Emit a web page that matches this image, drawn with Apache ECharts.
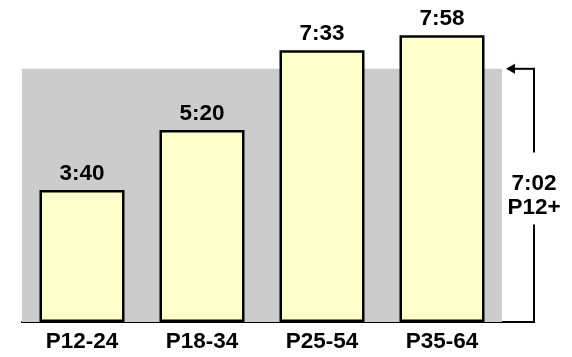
<!DOCTYPE html>
<html><head><meta charset="utf-8">
<script src="https://cdn.jsdelivr.net/npm/echarts@6/dist/echarts.min.js"></script>
<style>html,body{margin:0;padding:0;background:#fff}#c{width:572px;height:357px}</style>
</head><body><div id="c"></div>
<script>
var categories = ['P12-24', 'P18-34', 'P25-54', 'P35-64'];
var minutes = [220, 320, 453, 478];           // 3:40, 5:20, 7:33, 7:58
var totalMinutes = 422;                        // 7:02
var totalLabel = ['7:02', 'P12+'];

function fmt(m) { var h = Math.floor(m / 60), r = m % 60; return h + ':' + (r < 10 ? '0' : '') + r; }
var FONT = '"Liberation Sans", Arial, sans-serif';

var chart = echarts.init(document.getElementById('c'));
chart.setOption({
  animation: false,
  grid: { left: 22, right: 70, top: 22, bottom: 35 },
  xAxis: {
    type: 'category', data: categories,
    axisLine: { show: true, lineStyle: { color: '#000', width: 2 } },
    axisTick: { show: false },
    axisLabel: { color: '#000', fontFamily: FONT, fontWeight: 'bold', fontSize: 22.5, margin: 8 }
  },
  yAxis: { type: 'value', min: 0, max: 500, show: false, splitLine: { show: false } },
  series: [{
    type: 'bar', data: minutes, barWidth: 85,
    itemStyle: { color: '#FFFFCC', borderColor: '#000', borderWidth: 2.5 },
    label: { show: true, position: 'top', distance: 5, color: '#000', fontFamily: FONT, fontWeight: 'bold', fontSize: 22.5,
      formatter: function (p) { return fmt(p.value); } },
    markArea: { silent: true, itemStyle: { color: '#CCCCCC' },
      data: [[{ yAxis: 0 }, { yAxis: totalMinutes }]] },
    z: 3
  }]
});

function draw() {
  var yTop = chart.convertToPixel({ yAxisIndex: 0 }, totalMinutes);
  var yBase = chart.convertToPixel({ yAxisIndex: 0 }, 0);
  var xRight = chart.convertToPixel({ xAxisIndex: 0 }, categories[categories.length - 1]) + 60;
  var xl = xRight + 32;
  var yMid = (yTop + yBase) / 2;
  chart.setOption({
    graphic: [
      { type: 'line', shape: { x1: xRight - 1, y1: yBase, x2: xl + 1, y2: yBase }, style: { stroke: '#000', lineWidth: 2 } },
      { type: 'line', shape: { x1: xl, y1: yTop, x2: xl, y2: yMid - 43 }, style: { stroke: '#000', lineWidth: 2 } },
      { type: 'line', shape: { x1: xl, y1: yMid + 29, x2: xl, y2: yBase }, style: { stroke: '#000', lineWidth: 2 } },
      { type: 'line', shape: { x1: xl + 1, y1: yTop, x2: xRight + 10, y2: yTop }, style: { stroke: '#000', lineWidth: 2 } },
      { type: 'polygon', shape: { points: [[xRight + 4, yTop], [xRight + 13, yTop - 5], [xRight + 13, yTop + 5]] }, style: { fill: '#000' } },
      { type: 'text', x: xl, y: yMid, style: { text: totalLabel.join('\n'), fill: '#000', font: 'bold 22.5px ' + FONT,
        align: 'center', verticalAlign: 'middle', lineHeight: 24 } }
    ]
  });
}
draw();
</script></body></html>
